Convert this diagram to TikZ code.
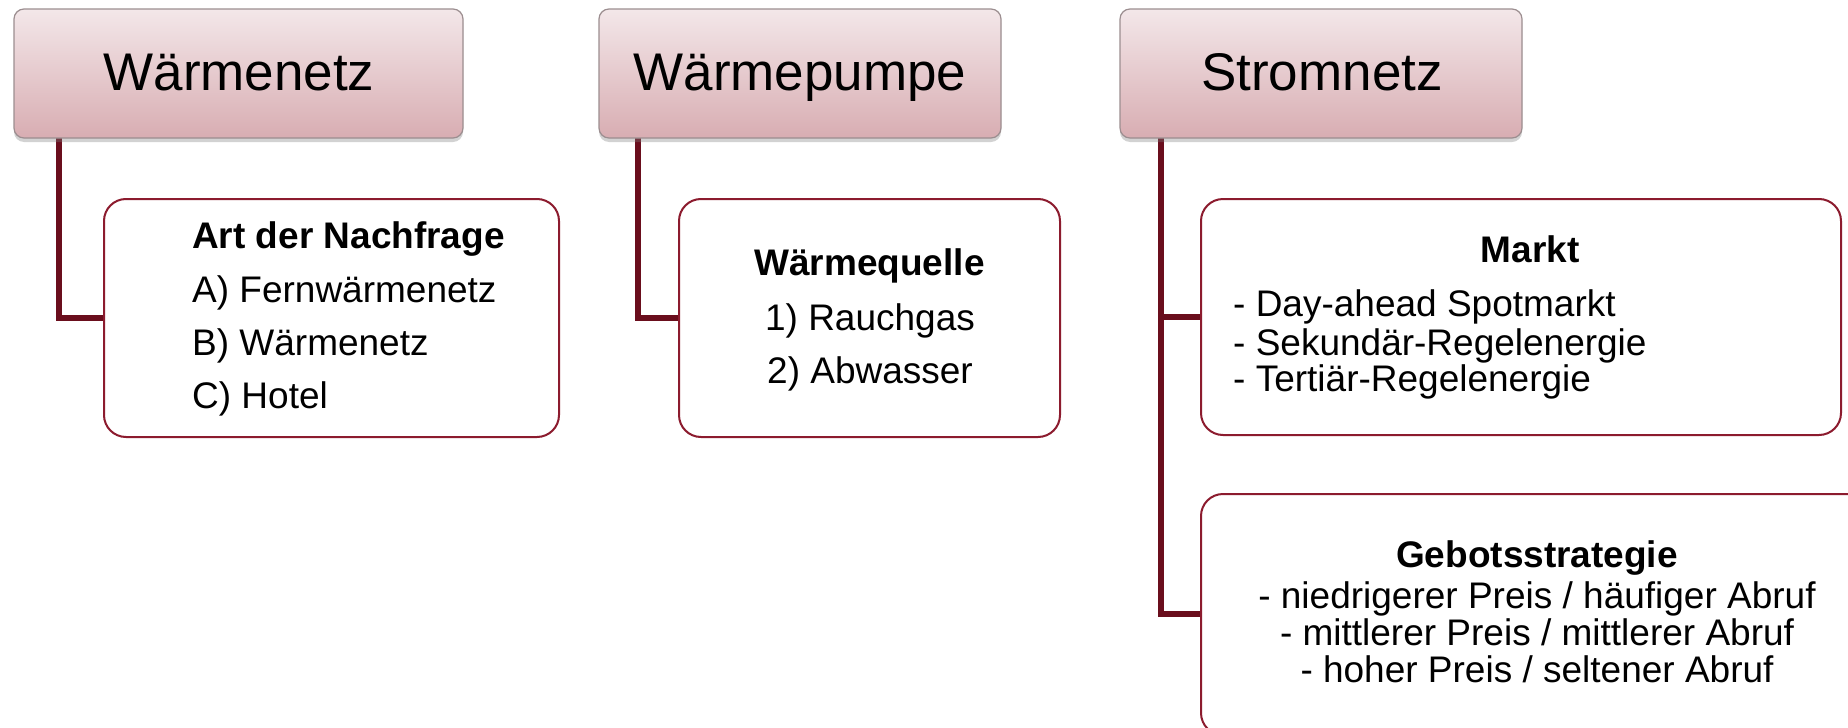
\documentclass[tikz,border=0pt]{standalone}
\usepackage{fontspec}
\setmainfont{Liberation Sans}
\usetikzlibrary{shadows}
\definecolor{hdrtop}{HTML}{F3E7E9}
\definecolor{hdrbot}{HTML}{D8ADB2}
\definecolor{hdrline}{HTML}{9C8E90}
\definecolor{boxline}{HTML}{8C1B2E}
\definecolor{connline}{HTML}{6A0E1D}
\tikzset{
  hdr/.style={rectangle, rounded corners=10pt, draw=hdrline, line width=1.2pt,
    top color=hdrtop, bottom color=hdrbot, inner sep=0pt,
    drop shadow={opacity=0.35, shadow xshift=0pt, shadow yshift=-4pt}},
  child/.style={rectangle, rounded corners=22pt, draw=boxline, line width=2pt,
    fill=white, inner sep=0pt},
  conn/.style={draw=connline, line width=5.5pt},
  hdrtext/.style={font=\fontsize{53}{60}\selectfont, inner sep=0pt, anchor=base},
  ctext/.style={font=\fontsize{37}{42}\selectfont, inner sep=0pt},
  btext/.style={font=\fontsize{37}{42}\selectfont\bfseries, inner sep=0pt}
}
\begin{document}
\begin{tikzpicture}[x=1pt, y=-1pt]
\path[use as bounding box, clip] (0,0) rectangle (1848,728);
\fill[white] (0,0) rectangle (1848,728);

% connectors (drawn first, boxes on top)
\coordinate (k1) at (59,138);
\coordinate (k2) at (638,138);
\coordinate (k3) at (1161,138);
\coordinate (w1) at (104,318);
\coordinate (w2) at (679,318);
\coordinate (w3) at (1201,317);
\coordinate (w4) at (1201,614);
\draw[conn] (k1) |- (w1);
\draw[conn] (k2) |- (w2);
\draw[conn] (k3) |- (w3);
\draw[conn] (k3) |- (w4);

% header boxes
\node[hdr, minimum width=449pt, minimum height=129pt] (h1) at (238.5,73.5) {};
\node[hdr, minimum width=402pt, minimum height=129pt] (h2) at (800,73.5) {};
\node[hdr, minimum width=402pt, minimum height=129pt] (h3) at (1321,73.5) {};
\node[hdrtext] (h1t) at (239,90) {Wärmenetz};
\node[hdrtext] (h2t) at (800,90) {Wärmepumpe};
\node[hdrtext] (h3t) at (1322,90) {Stromnetz};

% child boxes
\node[child, minimum width=455pt, minimum height=238pt] (c1) at (331.5,318) {};
\node[child, minimum width=381pt, minimum height=238pt] (c2) at (869.5,318) {};
\node[child, minimum width=640pt, minimum height=236pt] (c3) at (1521,317) {};
\node[child, minimum width=669pt, minimum height=241pt] (c4) at (1535.5,614.5) {};

% texts child 1
\node[btext, anchor=base west] (c1a) at (192,248) {Art der Nachfrage};
\node[ctext, anchor=base west] (c1b) at (192,302) {A) Fernwärmenetz};
\node[ctext, anchor=base west] (c1c) at (192,355) {B) Wärmenetz};
\node[ctext, anchor=base west] (c1d) at (192,408) {C) Hotel};

% texts child 2
\node[btext, anchor=base] (c2a) at (869.5,275) {Wärmequelle};
\node[ctext, anchor=base] (c2b) at (870,330) {1) Rauchgas};
\node[ctext, anchor=base] (c2c) at (870,383) {2) Abwasser};

% texts child 3
\node[btext, anchor=base] (c3a) at (1530,262) {Markt};
\node[ctext, anchor=base west] (c3b) at (1233,316) {- Day-ahead Spotmarkt};
\node[ctext, anchor=base west] (c3c) at (1233,355) {- Sekundär-Regelenergie};
\node[ctext, anchor=base west] (c3d) at (1233,391) {- Tertiär-Regelenergie};

% texts child 4
\node[btext, anchor=base] (c4a) at (1537,567) {Gebotsstrategie};
\node[ctext, anchor=base] (c4b) at (1537,608) {- niedrigerer Preis / häufiger Abruf};
\node[ctext, anchor=base] (c4c) at (1537,645) {- mittlerer Preis / mittlerer Abruf};
\node[ctext, anchor=base] (c4d) at (1537,682) {- hoher Preis / seltener Abruf};
\end{tikzpicture}
\end{document}
